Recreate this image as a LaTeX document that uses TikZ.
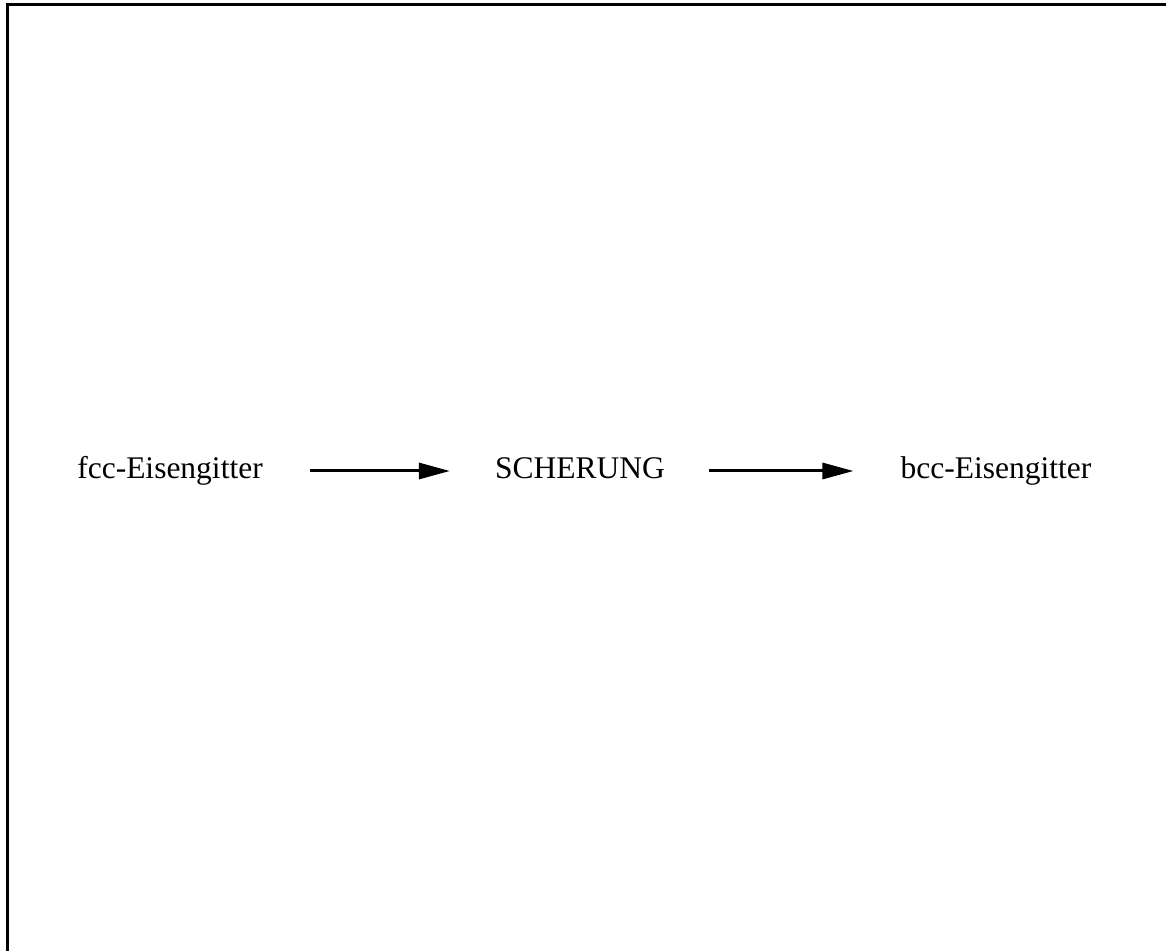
\documentclass[tikz,border=0pt]{standalone}
\usepackage{fontspec}
\setmainfont{Liberation Serif}
\usetikzlibrary{arrows.meta}
\begin{document}
\begin{tikzpicture}[x=1pt,y=1pt,
  lbl/.style={anchor=base,inner sep=0pt,font=\fontsize{31.5}{36}\selectfont},
  arr/.style={line width=3pt,-{Triangle[length=31pt,width=16pt]}}]
\useasboundingbox (0,0) rectangle (1166,951);
\draw[line width=3pt] (7,0) -- (7,946.5) -- (1166,946.5);
\node[lbl] (fcc) at (170,472) {fcc-Eisengitter};
\node[lbl] (sch) at (580,472) {SCHERUNG};
\node[lbl] (bcc) at (996,472) {bcc-Eisengitter};
\draw[arr, shorten <=47pt, shorten >=45pt] ([yshift=8pt]fcc.base east) -- ([yshift=8pt]sch.base west);
\draw[arr, shorten <=44pt, shorten >=47pt] ([yshift=8pt]sch.base east) -- ([yshift=8pt]bcc.base west);
\end{tikzpicture}
\end{document}
